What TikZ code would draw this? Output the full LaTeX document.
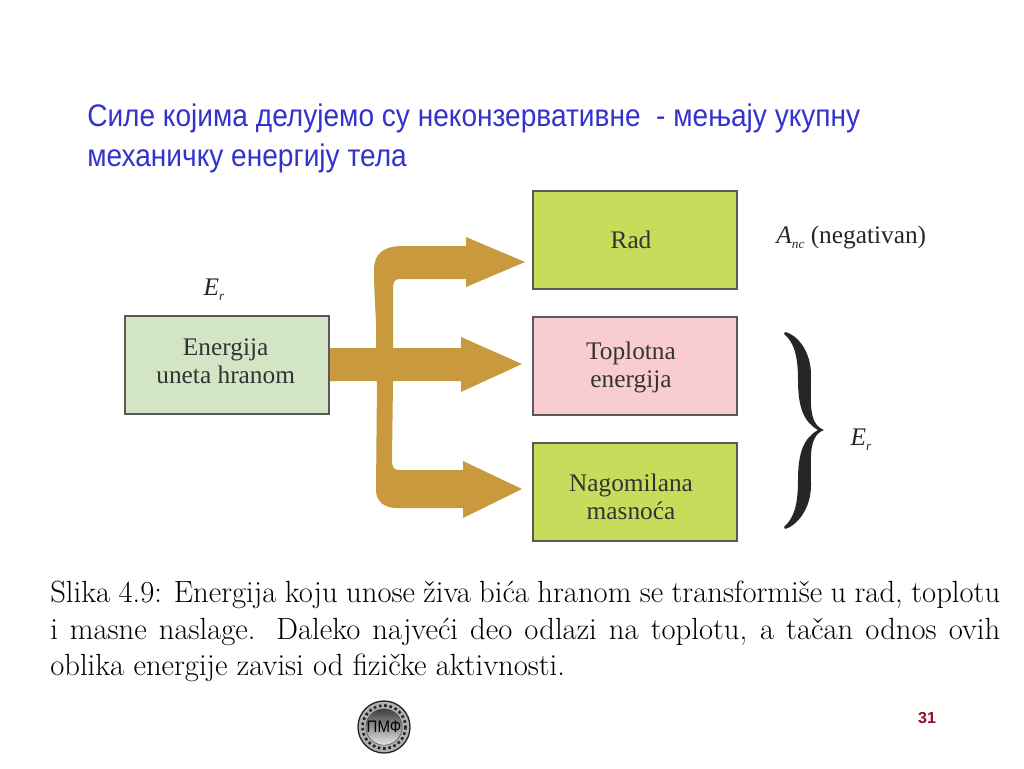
\documentclass[tikz,border=0pt]{standalone}
\usepackage{fontspec}
\usepackage{tikz}
\usetikzlibrary{positioning}
\newfontfamily\arialfont{Liberation Sans}
\newfontfamily\narrowfont[FakeStretch=0.9]{Liberation Sans}
\newfontfamily\timesfont{Liberation Serif}
\definecolor{titleblue}{RGB}{51,51,204}
\definecolor{flowbrown}{RGB}{201,153,62}
\definecolor{foodgreen}{RGB}{210,230,197}
\definecolor{limegreen}{RGB}{200,220,92}
\definecolor{heatpink}{RGB}{249,205,208}
\definecolor{pagered}{RGB}{150,10,30}
\newcommand\subr[1]{\raisebox{-4pt}{\fontsize{10}{10}\selectfont\textit{#1}}}
\tikzset{every picture/.append style={x=0.75pt,y=-0.75pt}}

\begin{document}
\begin{tikzpicture}
      \tikzstyle{box}=[draw=black!65,line width=0.9pt,minimum width=153pt,minimum height=73.5pt,inner sep=0pt]
      \tikzstyle{every label}=[align=center,text=black!80,font=\timesfont\fontsize{19}{21}\selectfont]
      \tikzstyle{flow}=[fill=flowbrown]
      \tikzstyle{mathlabel}=[text=black!85,font=\timesfont\fontsize{19}{22}\selectfont]
      \useasboundingbox (0,0) rectangle (1024,768);
      % title
      \node[anchor=north west,inner sep=0pt,align=left,text=titleblue,font=\narrowfont\fontsize{23.4}{30}\selectfont] at (87,103.5) (title) {Силе којима делујемо су неконзервативне\ \ - мењају укупну\\механичку енергију тела};
      % arrows first, boxes lie over their ends
      \fill[flow] (525,262) -- (466,237) -- (466,246) -- (403,246) .. controls (384,246) and (374,253) .. (374,270) .. controls (374,300) and (377,320) .. (376,348) -- (330,348) -- (330,381) -- (377,381) -- (376,490) .. controls (376,502) and (385,508) .. (397,508) -- (463,508) -- (463,518) -- (522,489) -- (463,461) -- (463,470) -- (400,470) .. controls (394,470) and (392,468) .. (392,460) -- (393,381) -- (461,381) -- (461,392) -- (522,364) -- (461,337) -- (461,348) -- (393,348) -- (393,290) .. controls (393,282) and (394,279) .. (400,279) -- (466,279) -- (466,287) -- cycle;
      % boxes
      \node[box,fill=foodgreen,label={[xshift=-1pt,yshift=3pt]center:Energija\\uneta hranom}] at (227,365) (food) {};
      \node[box,fill=limegreen,label={[xshift=-3pt]center:Rad}] at (635,240) (work) {};
      \node[box,fill=heatpink,label={[xshift=-3pt,yshift=-1pt]center:Toplotna\\energija}] at (635,366) (heat) {};
      \node[box,fill=limegreen,label={[xshift=-3pt,yshift=-3.5pt]center:Nagomilana\\masnoća}] at (635,492) (fat) {};
      % labels
      \node[mathlabel] at (214,290) (Efood) {\textit{E}\subr{r}};
      \node[mathlabel,anchor=west,inner sep=0pt] at (776,237) (Anc) {\textit{A}\subr{nc} (negativan)};
      \node[mathlabel] at (861,440) (Eright) {\textit{E}\subr{r}};
      % brace
      \fill[black!85] (785,332) .. controls (796,334) and (811,350) .. (811,375) .. controls (811,402) and (808,424) .. (824,430) .. controls (808,436) and (811,458) .. (811,485) .. controls (811,510) and (796,526) .. (785,529) -- (784,527) .. controls (794,518) and (798,505) .. (798,480) .. controls (798,452) and (804,438) .. (818,430) .. controls (804,422) and (798,408) .. (798,380) .. controls (798,356) and (794,342) .. (784,334) -- cycle;
      % caption
      \node[anchor=north west,inner sep=0pt,text width=712.5pt,align=justify,text=black,font=\fontsize{23}{27.3}\selectfont] at (50,581) (caption) {Slika 4.9: Energija koju unose živa bića hranom se transformiše u rad, toplotu\linebreak i masne naslage. Daleko najveći deo odlazi na toplotu, a tačan odnos ovih\linebreak oblika energije zavisi od fizičke aktivnosti.};
      % logo
      \node[circle,draw=black!85,line width=1pt,fill=black!30,minimum size=39pt,inner sep=0pt] at (384,727) (seal) {};
      \draw[black!85,line width=2pt,dotted] (seal) circle (21.5);
      \node[circle,draw=black!70,line width=0.4pt,top color=black!75,bottom color=black!10,minimum size=24pt,inner sep=0pt,text=black,font=\narrowfont\fontsize{12.5}{12}\selectfont] at (seal) (sealcore) {ПМФ};
      % page number
      \node[text=pagered,font=\arialfont\bfseries\fontsize{12}{14}\selectfont] at (927,718) (page) {31};
    \end{tikzpicture}
\end{document}
